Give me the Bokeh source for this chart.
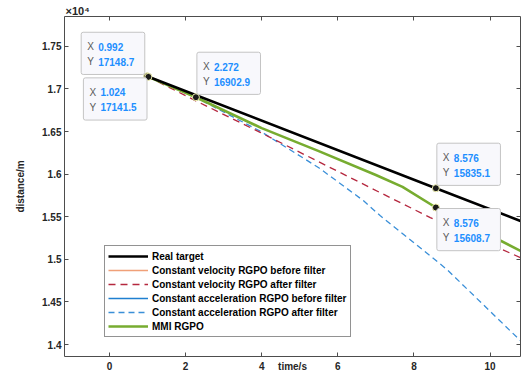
from bokeh.plotting import figure
from bokeh.models import Range1d, LinearAxis, FixedTicker, Legend, LegendItem, Label
from bokeh.embed import file_html
from bokeh.resources import INLINE

# ---------------- data ----------------
real_t = [0.992, 8.576, 10.8]
real_d = [17148.7, 15835.1, 15450.0]

cv_t = [0.992, 2.272, 3.96, 7.11, 8.43, 10.8]
cv_d = [17148.7, 16860.0, 16490.0, 15784.0, 15490.0, 15020.0]

ca_t = [0.992, 2.272, 3.96, 5.5, 6.67, 7.11, 8.24, 8.87, 10.8]
ca_d = [17148.7, 16900.0, 16505.0, 16075.0, 15690.0, 15514.0, 15110.0, 14880.0, 14045.0]

mmi_t = [0.992, 1.024, 2.272, 4.0, 5.5, 7.0, 7.7, 8.576, 10.8]
mmi_d = [17148.7, 17141.5, 16902.9, 16540.0, 16270.0, 15990.0, 15850.0, 15608.7, 15100.0]

tip_x = [0.992, 1.024, 2.272, 8.576, 8.576]
tip_y = [17148.7, 17141.5, 16902.9, 15835.1, 15608.7]
tip_xtxt = ["0.992", "1.024", "2.272", "8.576", "8.576"]
tip_ytxt = ["17148.7", "17141.5", "16902.9", "15835.1", "15608.7"]

x_ticks = [0, 2, 4, 6, 8, 10]
y_ticks = [14000, 14500, 15000, 15500, 16000, 16500, 17000, 17500]
y_tick_labels = ["1.4", "1.45", "1.5", "1.55", "1.6", "1.65", "1.7", "1.75"]

legend_labels = ["Real target",
                 "Constant velocity RGPO before filter",
                 "Constant velocity RGPO after filter",
                 "Constant acceleration RGPO before filter",
                 "Constant acceleration RGPO after filter",
                 "MMI RGPO"]

# ---------------- styling ----------------
FONT = "Liberation Sans"
AX = "#4d4d4d"
TXT = "#262626"

p = figure(width=528, height=378, output_backend="svg", toolbar_location=None,
           x_range=Range1d(-1.18, 10.8), y_range=Range1d(13860, 17850),
           min_border_left=64, min_border_right=8, min_border_top=16, min_border_bottom=22,
           x_axis_location=None, y_axis_location=None, title="×10⁴")
p.background_fill_color = "white"
p.border_fill_color = "white"
p.outline_line_color = None
p.xgrid.visible = False
p.ygrid.visible = False
p.title.align = "left"
p.title.offset = 1
p.title.standoff = 0
p.title.text_font = FONT
p.title.text_font_size = "11px"
p.title.text_font_style = "bold"
p.title.text_color = TXT


def make_axis(ticks, labels=None, show=True):
    ax = LinearAxis(ticker=FixedTicker(ticks=ticks))
    ax.axis_line_color = AX
    ax.major_tick_line_color = AX
    ax.major_tick_in = 4
    ax.major_tick_out = 0
    ax.minor_tick_line_color = None
    if show:
        ax.major_label_text_font = FONT
        ax.major_label_text_font_style = "bold"
        ax.major_label_text_font_size = "10px"
        ax.major_label_text_color = TXT
        ax.axis_label_text_font = FONT
        ax.axis_label_text_font_style = "bold"
        ax.axis_label_text_font_size = "10px"
        ax.axis_label_text_color = TXT
        if labels is not None:
            ax.major_label_overrides = {t: l for t, l in zip(ticks, labels)}
    else:
        ax.major_label_text_font_size = "1px"
        ax.major_label_text_alpha = 0
        ax.major_label_standoff = 0
        ax.major_label_overrides = {t: "" for t in ticks}
    return ax


xb = make_axis(x_ticks)
xb.major_label_standoff = 5
xb.axis_label = "time/s"
xb.axis_label_standoff = -12
p.add_layout(xb, "below")
yl = make_axis(y_ticks, y_tick_labels)
yl.major_label_standoff = 3
yl.axis_label = "distance/m"
yl.axis_label_standoff = 13
p.add_layout(yl, "left")
p.add_layout(make_axis(x_ticks, show=False), "above")
p.add_layout(make_axis(y_ticks, show=False), "right")

# ---------------- lines ----------------
r_ca = p.line(ca_t, ca_d, line_color="#3a8fd8", line_width=1.3, line_dash="6 4")
r_cv = p.line(cv_t, cv_d, line_color="#b5283f", line_width=1.3, line_dash="7 5")
r_mmi = p.line(mmi_t, mmi_d, line_color="#77ac30", line_width=2.6)
r_real = p.line(real_t, real_d, line_color="black", line_width=2.6)
# "before filter" series: only their legend swatches are visible in the reference
r_cv0 = p.line(cv_t[:1], cv_d[:1], line_color="#f0a078", line_width=1.3)
r_ca0 = p.line(ca_t[:1], ca_d[:1], line_color="#1f7fd0", line_width=1.3)

p.scatter(tip_x, tip_y, size=7, fill_color="#1a1a1a", line_color="#f2f2b0", line_width=1)

legend = Legend(items=[LegendItem(label=legend_labels[0], renderers=[r_real]),
                       LegendItem(label=legend_labels[1], renderers=[r_cv0]),
                       LegendItem(label=legend_labels[2], renderers=[r_cv]),
                       LegendItem(label=legend_labels[3], renderers=[r_ca0]),
                       LegendItem(label=legend_labels[4], renderers=[r_ca]),
                       LegendItem(label=legend_labels[5], renderers=[r_mmi])],
                location=(40, 19))
legend.margin = 0
legend.padding = 3
legend.spacing = 0
legend.glyph_width = 40
legend.glyph_height = 14
legend.label_height = 14
legend.label_standoff = 4
legend.label_text_font = FONT
legend.label_text_font_style = "bold"
legend.label_text_font_size = "10px"
legend.label_text_color = "black"
legend.border_line_color = TXT
legend.border_line_width = 1
legend.background_fill_color = "white"
legend.background_fill_alpha = 1
p.add_layout(legend, "center")

# ---------------- data tips ----------------
# (box left, box top) offsets of each tip box from its point, in px (top: + is down)
tip_box = [(-66, -44), (-65, 1), (1, -45), (1, -45), (1, 1)]
BG = "#f8f8fc"
for xv, yv, xs, ys, (bl, bt) in zip(tip_x, tip_y, tip_xtxt, tip_ytxt, tip_box):
    box = Label(x=xv, y=yv, x_offset=bl, y_offset=-bt, text="Y 17148.7\nY 17148.7",
                text_color=BG, text_align="left", text_baseline="top",
                text_font=FONT, text_font_size="10px", text_font_style="bold",
                padding=9, background_fill_color=BG,
                border_line_color="#c4c4c4", border_line_width=1, border_radius=2)
    p.add_layout(box)
    for k, (lab, num) in enumerate((("X", xs), ("Y", ys))):
        dy = bt + 14.5 + 15 * k
        p.add_layout(Label(x=xv, y=yv, x_offset=bl + 6, y_offset=-dy, text=lab,
                           text_align="left", text_baseline="middle", text_font=FONT,
                           text_font_size="10px", text_color="#5a5a5a"))
        p.add_layout(Label(x=xv, y=yv, x_offset=bl + 17, y_offset=-dy, text=num,
                           text_align="left", text_baseline="middle", text_font=FONT,
                           text_font_size="10px", text_font_style="bold",
                           text_color="#1e8fff"))

open("out.html", "w").write(file_html(p, INLINE))
